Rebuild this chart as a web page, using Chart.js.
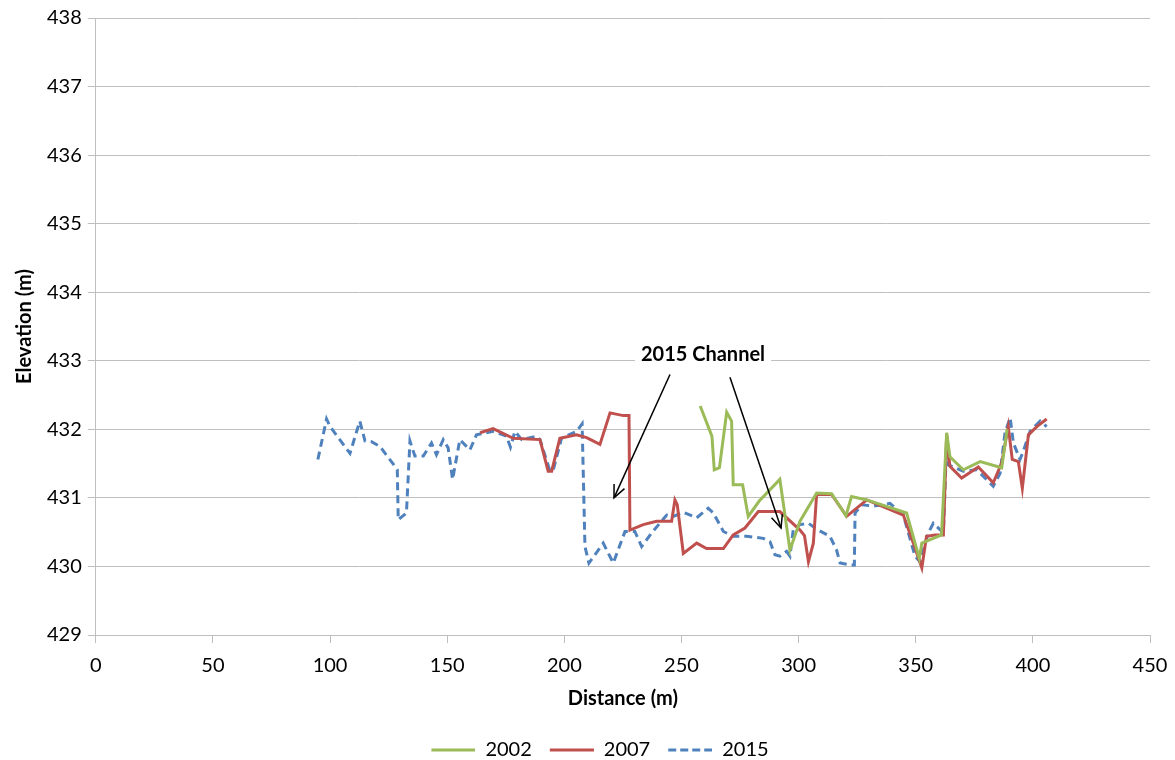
<!DOCTYPE html>
<html>
<head>
<meta charset="utf-8">
<script src="https://cdn.jsdelivr.net/npm/chart.js@4"></script>
<style>
  html, body { margin: 0; padding: 0; background: #fff; }
  #wrap { width: 1175px; height: 760px; }
</style>
</head>
<body>
<div id="wrap"><canvas id="chart" width="1175" height="760"></canvas></div>
<script>
// cross-section surveys, distance (m) vs elevation (m)
const dist2002 = [258, 263, 264, 266.2, 269.3, 271.4, 272.1, 276.1, 278.5, 283.1, 292, 296.3, 300.6, 307.7, 314.1, 320.2, 322.6, 329.1, 346.1, 351.5, 352.6, 361, 363.2, 364.6, 370.3, 377.5, 386.7, 389];
const elev2002 = [432.34, 431.9, 431.41, 431.44, 432.25, 432.12, 431.19, 431.19, 430.73, 430.95, 431.27, 430.24, 430.66, 431.07, 431.06, 430.74, 431.02, 430.97, 430.78, 430.12, 430.34, 430.46, 431.95, 431.6, 431.41, 431.53, 431.44, 432.0];

const dist2007 = [164, 169.6, 178.2, 189.6, 193.1, 194.6, 198.1, 205.2, 209.5, 215.2, 219.5, 225.2, 227.6, 228, 233.7, 239.4, 245.8, 247.2, 248.2, 250.8, 256.5, 260.7, 267.9, 272.1, 277.1, 282.8, 292, 300.6, 302.5, 304.2, 306.3, 307.7, 314.1, 320.5, 329.1, 344.7, 349, 352.6, 354.6, 358.2, 361.8, 363.2, 364.6, 369.6, 376.7, 383.1, 386.7, 389.5, 391.2, 393.8, 395.5, 398.1, 401.7, 405.9];
const elev2007 = [431.95, 432.01, 431.87, 431.85, 431.39, 431.39, 431.87, 431.92, 431.88, 431.78, 432.24, 432.2, 432.2, 430.53, 430.61, 430.66, 430.66, 430.97, 430.9, 430.19, 430.34, 430.26, 430.26, 430.46, 430.56, 430.8, 430.8, 430.53, 430.45, 430.07, 430.34, 431.05, 431.05, 430.73, 430.97, 430.75, 430.34, 429.98, 430.44, 430.46, 430.46, 431.92, 431.46, 431.29, 431.45, 431.22, 431.51, 432.04, 431.56, 431.53, 431.14, 431.92, 432.04, 432.15];

const dist2015 = [94.8, 98.5, 100, 108.5, 112.7, 114.9, 117.7, 121.3, 127.7, 128.7, 129.1, 132.6, 134.1, 136.2, 139.8, 143.3, 145.4, 148.3, 150.4, 152.3, 155.4, 159.7, 162.5, 169.6, 175.3, 177, 178.9, 181.8, 188.2, 189.6, 193.9, 195.3, 198.8, 205.2, 207.6, 208.8, 210.5, 216.6, 220.9, 225.9, 230.1, 233, 237.3, 243.7, 246.5, 250.8, 256.5, 261.4, 263.6, 267.9, 272.1, 277.8, 284.9, 287.8, 289.9, 292, 294.9, 296.3, 297.7, 300.6, 304.2, 308.4, 313.4, 316.2, 317.7, 322.6, 323.8, 324.1, 326.9, 331.9, 339, 344.7, 349.7, 351.8, 355.4, 357.5, 359, 361.8, 363.2, 363.9, 370.3, 376, 383.1, 386, 388.1, 390.3, 391.7, 394.5, 395.9, 398.8, 403.1, 405.9];
const elev2015 = [431.56, 432.15, 432.04, 431.65, 432.12, 431.83, 431.82, 431.75, 431.46, 431.41, 430.68, 430.78, 431.83, 431.61, 431.61, 431.8, 431.63, 431.85, 431.73, 431.27, 431.85, 431.7, 431.92, 431.97, 431.9, 431.74, 431.97, 431.85, 431.9, 431.85, 431.39, 431.41, 431.87, 431.97, 432.08, 430.29, 430.05, 430.34, 430.05, 430.51, 430.51, 430.29, 430.49, 430.75, 430.73, 430.79, 430.71, 430.85, 430.78, 430.51, 430.44, 430.44, 430.41, 430.36, 430.17, 430.15, 430.22, 430.15, 430.53, 430.61, 430.63, 430.53, 430.44, 430.24, 430.05, 430.02, 430.02, 430.78, 430.9, 430.88, 430.92, 430.75, 430.15, 430.07, 430.49, 430.63, 430.58, 430.49, 431.8, 431.48, 431.39, 431.41, 431.17, 431.36, 431.95, 432.17, 431.8, 431.56, 431.68, 431.97, 432.12, 432.04];

// annotation: label and two arrows (data coords)
const noteText = "2015 Channel";
const notePos = [259.2, 433.09];
const arrows = [
  [[245.1, 432.8], [221.2, 431.0]],
  [[270.7, 432.76], [292.5, 430.56]]
];

const FONT = "Lato, 'Open Sans', sans-serif";

const pts = (xs, ys) => xs.map((x, i) => ({ x: x, y: ys[i] }));

// line sample for the legend (so the dash shows); left part left blank as item gap
function swatch(color, dash) {
  const c = document.createElement("canvas");
  c.width = 60;
  c.height = 6;
  const g = c.getContext("2d");
  g.strokeStyle = color;
  g.lineWidth = 3;
  g.setLineDash(dash);
  g.beginPath();
  g.moveTo(16, 3);
  g.lineTo(60, 3);
  g.stroke();
  return c;
}

const notePlugin = {
  id: "note",
  afterDatasetsDraw(chart) {
    const { ctx, scales } = chart;
    const sx = scales.x, sy = scales.y;
    ctx.save();
    ctx.strokeStyle = "#000";
    ctx.fillStyle = "#000";
    ctx.lineWidth = 1.5;
    arrows.forEach(a => {
      const x1 = sx.getPixelForValue(a[0][0]), y1 = sy.getPixelForValue(a[0][1]);
      const x2 = sx.getPixelForValue(a[1][0]), y2 = sy.getPixelForValue(a[1][1]);
      ctx.beginPath();
      ctx.moveTo(x1, y1);
      ctx.lineTo(x2, y2);
      ctx.stroke();
      const ang = Math.atan2(y2 - y1, x2 - x1);
      const L = 14, W = 0.42;
      ctx.beginPath();
      ctx.moveTo(x2 - L * Math.cos(ang - W), y2 - L * Math.sin(ang - W));
      ctx.lineTo(x2, y2);
      ctx.lineTo(x2 - L * Math.cos(ang + W), y2 - L * Math.sin(ang + W));
      ctx.stroke();
    });
    const tx = sx.getPixelForValue(notePos[0]), ty = sy.getPixelForValue(notePos[1]);
    ctx.font = "bold 20px " + FONT;
    ctx.textAlign = "center";
    ctx.textBaseline = "middle";
    const w = ctx.measureText(noteText).width;
    ctx.fillStyle = "#fff";
    ctx.fillRect(tx - w / 2 - 6, ty - 12, w + 12, 24);
    ctx.fillStyle = "#000";
    ctx.fillText(noteText, tx, ty);
    ctx.restore();
  }
};

Chart.defaults.font.family = FONT;
Chart.defaults.color = "#000";

const chart = new Chart(document.getElementById("chart"), {
  type: "line",
  data: {
    datasets: [
      { label: "2002", data: pts(dist2002, elev2002), borderColor: "#9bbb59", backgroundColor: "#9bbb59", borderWidth: 3, pointStyle: swatch("#9bbb59", []) },
      { label: "2007", data: pts(dist2007, elev2007), borderColor: "#c0504d", backgroundColor: "#c0504d", borderWidth: 3, pointStyle: swatch("#c0504d", []) },
      { label: "2015", data: pts(dist2015, elev2015), borderColor: "#4f81bd", backgroundColor: "#4f81bd", borderWidth: 3, borderDash: [8, 5], pointStyle: swatch("#4f81bd", [8, 4]) }
    ]
  },
  options: {
    responsive: false,
    animation: false,
    layout: { padding: { left: 13, right: 4, top: 8, bottom: -10 } },
    elements: {
      point: { radius: 0, hoverRadius: 0 },
      line: { tension: 0 }
    },
    plugins: {
      tooltip: { enabled: false },
      legend: {
        position: "bottom",
        labels: {
          usePointStyle: true,
          pointStyleWidth: 60,
          padding: 2,
          font: { size: 20 }
        }
      }
    },
    scales: {
      x: {
        type: "linear",
        min: 0,
        max: 450,
        ticks: { stepSize: 50, font: { size: 20 }, padding: 11 },
        grid: { display: true, drawOnChartArea: false, color: "#bfbfbf", tickLength: 8 },
        border: { color: "#bfbfbf" },
        title: { display: true, text: "Distance (m)", font: { size: 20, weight: "bold" }, padding: { top: -2, bottom: 27 } },
        afterFit(scale) {
          scale.paddingRight = 25;
        }
      },
      y: {
        min: 429,
        max: 438,
        ticks: { stepSize: 1, font: { size: 20 }, padding: 6 },
        grid: { color: "#bfbfbf", tickLength: 8 },
        border: { color: "#bfbfbf" },
        title: { display: true, text: "Elevation (m)", font: { size: 20, weight: "bold" }, padding: { top: 0, bottom: 4 } }
      }
    }
  },
  plugins: [notePlugin]
});
</script>
</body>
</html>
